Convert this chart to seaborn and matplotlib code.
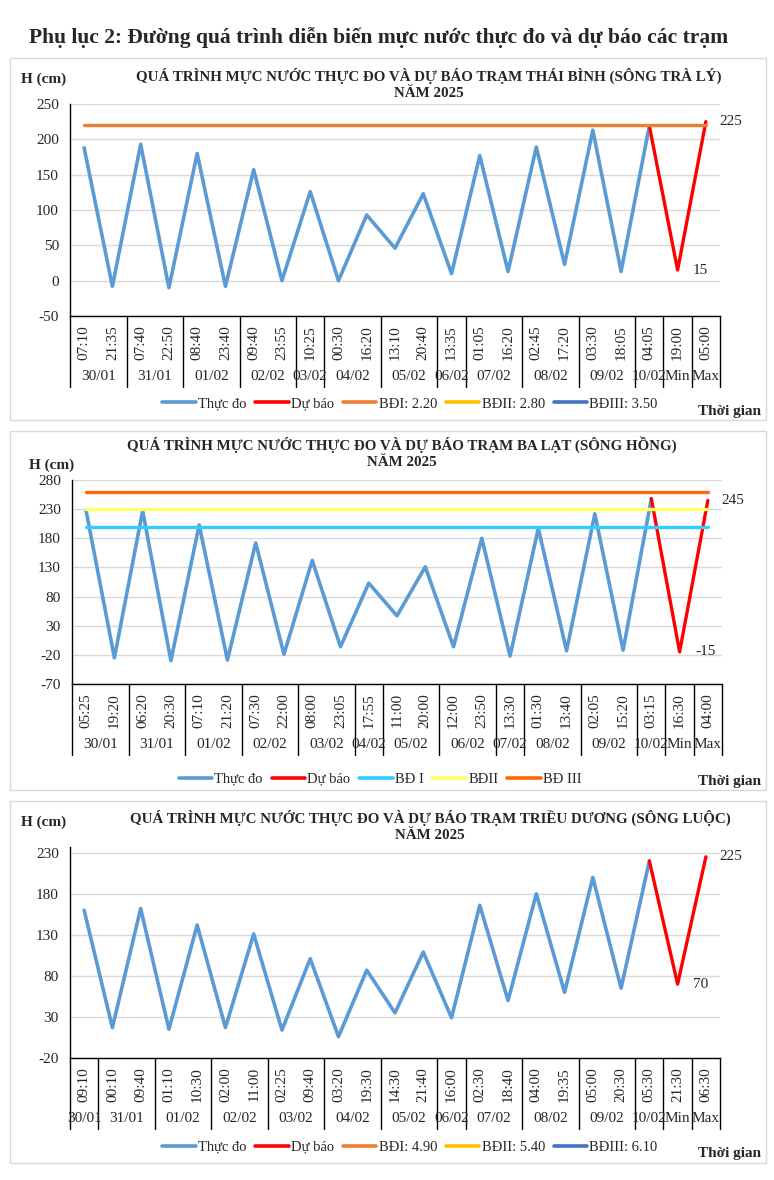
import numpy as np
import matplotlib
matplotlib.use("Agg")
import matplotlib.pyplot as plt
import seaborn as sns
from matplotlib.lines import Line2D
from matplotlib.patches import Rectangle
from matplotlib.transforms import blended_transform_factory

sns.set_theme(style="white")
plt.rcParams['font.family'] = ['Liberation Serif', 'DejaVu Serif']

# ---------------- DATA ----------------
# Panel 1: Thái Bình (sông Trà Lý)
tb_times = ["07:10", "21:35", "07:40", "22:50", "08:40", "23:40", "09:40", "23:55",
            "10:25", "00:30", "16:20", "13:10", "20:40", "13:35", "01:05", "16:20",
            "02:45", "17:20", "03:30", "18:05", "04:05", "19:00", "05:00"]
tb_groups = ["30/01", "31/01", "01/02", "02/02", "03/02", "04/02", "05/02", "06/02",
             "07/02", "08/02", "09/02", "10/02", "Min", "Max"]
tb_group_sizes = [2, 2, 2, 2, 1, 2, 2, 1, 2, 2, 2, 1, 1, 1]
tb_measured = [188, -8, 193, -10, 180, -8, 157, 0, 126, 0, 93, 46, 123, 10,
               177, 13, 189, 23, 213, 13, 219]
tb_forecast = [219, 15, 225]
tb_levels = [220]
tb_level_labels = ["BĐI: 2.20", "BĐII: 2.80", "BĐIII: 3.50"]

# Panel 2: Ba Lạt (sông Hồng)
bl_times = ["05:25", "19:20", "06:20", "20:30", "07:10", "21:20", "07:30", "22:00",
            "08:00", "23:05", "17:55", "11:00", "20:00", "12:00", "23:50", "13:30",
            "01:30", "13:40", "02:05", "15:20", "03:15", "16:30", "04:00"]
bl_groups = ["30/01", "31/01", "01/02", "02/02", "03/02", "04/02", "05/02", "06/02",
             "07/02", "08/02", "09/02", "10/02", "Min", "Max"]
bl_group_sizes = [2, 2, 2, 2, 2, 1, 2, 2, 1, 2, 2, 1, 1, 1]
bl_measured = [227, -25, 227, -30, 203, -29, 172, -19, 142, -6, 103, 47, 131, -6,
               180, -22, 197, -13, 222, -12, 248]
bl_forecast = [248, -15, 245]
bl_levels = [200, 230, 260]
bl_level_labels = ["BĐ I", "BĐII", "BĐ III"]

# Panel 3: Triều Dương (sông Luộc)
td_times = ["09:10", "00:10", "09:40", "01:10", "10:30", "02:00", "11:00", "02:25",
            "09:40", "03:20", "19:30", "14:30", "21:40", "16:00", "02:30", "18:40",
            "04:00", "19:35", "05:00", "20:30", "05:30", "21:30", "06:30"]
td_groups = ["30/01", "31/01", "01/02", "02/02", "03/02", "04/02", "05/02", "06/02",
             "07/02", "08/02", "09/02", "10/02", "Min", "Max"]
td_group_sizes = [1, 2, 2, 2, 2, 2, 2, 1, 2, 2, 2, 1, 1, 1]
td_measured = [160, 17, 162, 15, 142, 17, 131, 14, 101, 6, 87, 35, 109, 29,
               166, 50, 180, 60, 200, 65, 220]
td_forecast = [220, 70, 225]
td_levels = []
td_level_labels = ["BĐI: 4.90", "BĐII: 5.40", "BĐIII: 6.10"]

# ---------------- STYLE ----------------
W, H = 774, 1180
BLUE = "#5B9BD5"
RED = "#FF0000"
COL_A = ["#ED7D31", "#FFC000", "#4472C4"]
COL_B = ["#33CCFF", "#FFFF66", "#FF6600"]
FS = 11
LFS = 10.5

fig = plt.figure(figsize=(W / 100, H / 100), dpi=100)


def fx(px):
    return px / W


def fy(py):
    return 1 - py / H


fig.text(fx(379), fy(38), "Phụ lục 2: Đường quá trình diễn biến mực nước thực đo và dự báo các trạm",
         ha="center", va="center", fontsize=15.5, fontweight="bold")


def panel(box, ax_px, title, title_xy, hlabel_xy, times, groups, sizes, measured,
          forecast, levels, level_cols, level_labels, ylim, yticks, ann_labels,
          time_top, date_y, sep_bottom, legend_xy, tg_xy):
    bx0, by0, bx1, by1 = box
    fig.patches.append(Rectangle((fx(bx0), fy(by1)), fx(bx1 - bx0), (by1 - by0) / H,
                                 transform=fig.transFigure, fill=False,
                                 edgecolor="#D9D9D9", lw=1))
    l, t, r, b = ax_px
    ax = fig.add_axes([fx(l), fy(b), fx(r - l), (b - t) / H])
    n = len(times)
    x = np.arange(n)
    nm = len(measured)
    sns.lineplot(x=x[:nm], y=measured, ax=ax, color=BLUE, lw=2.6, legend=False)
    sns.lineplot(x=x[nm - 1:], y=forecast, ax=ax, color=RED, lw=2.4, legend=False)
    for v, c in zip(levels, level_cols):
        sns.lineplot(x=x, y=[v] * n, ax=ax, color=c, lw=2.4, legend=False)
    ax.set_xlim(-0.5, n - 0.5)
    ax.set_ylim(*ylim)
    ax.set_yticks(yticks)
    ax.set_yticklabels([str(v) for v in yticks], fontsize=FS)
    ax.yaxis.grid(True, color="#D9D9D9", lw=1)
    ax.set_axisbelow(True)
    for s in ["top", "right"]:
        ax.spines[s].set_visible(False)
    for s in ["left", "bottom"]:
        ax.spines[s].set_color("black")
        ax.spines[s].set_linewidth(1)
    ax.set_xticks(x)
    ax.set_xticklabels(times, rotation=90, fontsize=FS)
    ax.tick_params(axis="x", length=0, pad=(time_top - b) * 0.72)
    ax.tick_params(axis="y", length=0, pad=8)
    ax.set_xlabel("")
    ax.set_ylabel("")
    # annotations on min / max
    ax.annotate(ann_labels[1], (n - 1, forecast[2]), xytext=(10, 0),
                textcoords="offset points", ha="left", va="center", fontsize=FS)
    ax.annotate(ann_labels[0], (n - 2, forecast[1]), xytext=(11, 0),
                textcoords="offset points", ha="left", va="center", fontsize=FS)
    # multi-level category axis
    tr = blended_transform_factory(ax.transData, fig.transFigure)
    edges = np.concatenate([[0], np.cumsum(sizes)]) - 0.5
    for e in edges:
        ax.add_line(Line2D([e, e], [fy(b), fy(sep_bottom)], transform=tr,
                           color="black", lw=1, clip_on=False))
    for g, e0, e1 in zip(groups, edges[:-1], edges[1:]):
        ax.text((e0 + e1) / 2, fy(date_y), g, transform=tr, ha="center",
                va="center", fontsize=FS)
    # titles
    fig.text(fx(title_xy[0]), fy(title_xy[1]), title, ha="center", va="top",
             fontsize=10.8, fontweight="bold", linespacing=1.3)
    fig.text(fx(hlabel_xy[0]), fy(hlabel_xy[1]), "H (cm)", ha="center",
             va="center", fontsize=11, fontweight="bold")
    fig.text(fx(tg_xy[0]), fy(tg_xy[1]), "Thời gian", ha="center",
             va="center", fontsize=11, fontweight="bold")
    # legend
    handles = [Line2D([], [], color=BLUE, lw=2.6), Line2D([], [], color=RED, lw=2.6)]
    handles += [Line2D([], [], color=c, lw=2.6) for c in level_cols]
    labels = ["Thực đo", "Dự báo"] + level_labels
    fig.legend(handles, labels, loc="center", bbox_to_anchor=(fx(legend_xy[0]), fy(legend_xy[1])),
               ncol=5, frameon=False, fontsize=LFS, handlelength=2.3,
               handletextpad=0.15, columnspacing=0.6, borderaxespad=0)
    return ax


panel(box=(10, 58, 766, 420), ax_px=(70, 104, 720, 316),
      title="QUÁ TRÌNH MỰC NƯỚC THỰC ĐO VÀ DỰ BÁO TRẠM THÁI BÌNH (SÔNG TRÀ LÝ)\nNĂM 2025",
      title_xy=(429, 68), hlabel_xy=(44, 79),
      times=tb_times, groups=tb_groups, sizes=tb_group_sizes,
      measured=tb_measured, forecast=tb_forecast, levels=tb_levels,
      level_cols=COL_A, level_labels=tb_level_labels,
      ylim=(-50, 250), yticks=list(range(-50, 251, 50)), ann_labels=("15", "225"),
      time_top=325, date_y=377, sep_bottom=387, legend_xy=(410, 404), tg_xy=(730, 412))

panel(box=(10, 431, 766, 790), ax_px=(72, 480, 722, 684),
      title="QUÁ TRÌNH MỰC NƯỚC THỰC ĐO VÀ DỰ BÁO TRẠM BA LẠT (SÔNG HỒNG)\nNĂM 2025",
      title_xy=(402, 436), hlabel_xy=(52, 465),
      times=bl_times, groups=bl_groups, sizes=bl_group_sizes,
      measured=bl_measured, forecast=bl_forecast, levels=bl_levels,
      level_cols=COL_B, level_labels=bl_level_labels,
      ylim=(-70, 280), yticks=list(range(-70, 281, 50)), ann_labels=("-15", "245"),
      time_top=693, date_y=745, sep_bottom=755, legend_xy=(380, 779), tg_xy=(730, 782))

panel(box=(10, 801, 766, 1163), ax_px=(70, 847, 720, 1058),
      title="QUÁ TRÌNH MỰC NƯỚC THỰC ĐO VÀ DỰ BÁO TRẠM TRIỀU DƯƠNG (SÔNG LUỘC)\nNĂM 2025",
      title_xy=(430, 810), hlabel_xy=(44, 822),
      times=td_times, groups=td_groups, sizes=td_group_sizes,
      measured=td_measured, forecast=td_forecast, levels=td_levels,
      level_cols=COL_A, level_labels=td_level_labels,
      ylim=(-20, 237), yticks=list(range(-20, 231, 50)), ann_labels=("70", "225"),
      time_top=1067, date_y=1119, sep_bottom=1129, legend_xy=(410, 1147), tg_xy=(730, 1153))

fig.savefig("out.png", dpi=100, facecolor="white")
